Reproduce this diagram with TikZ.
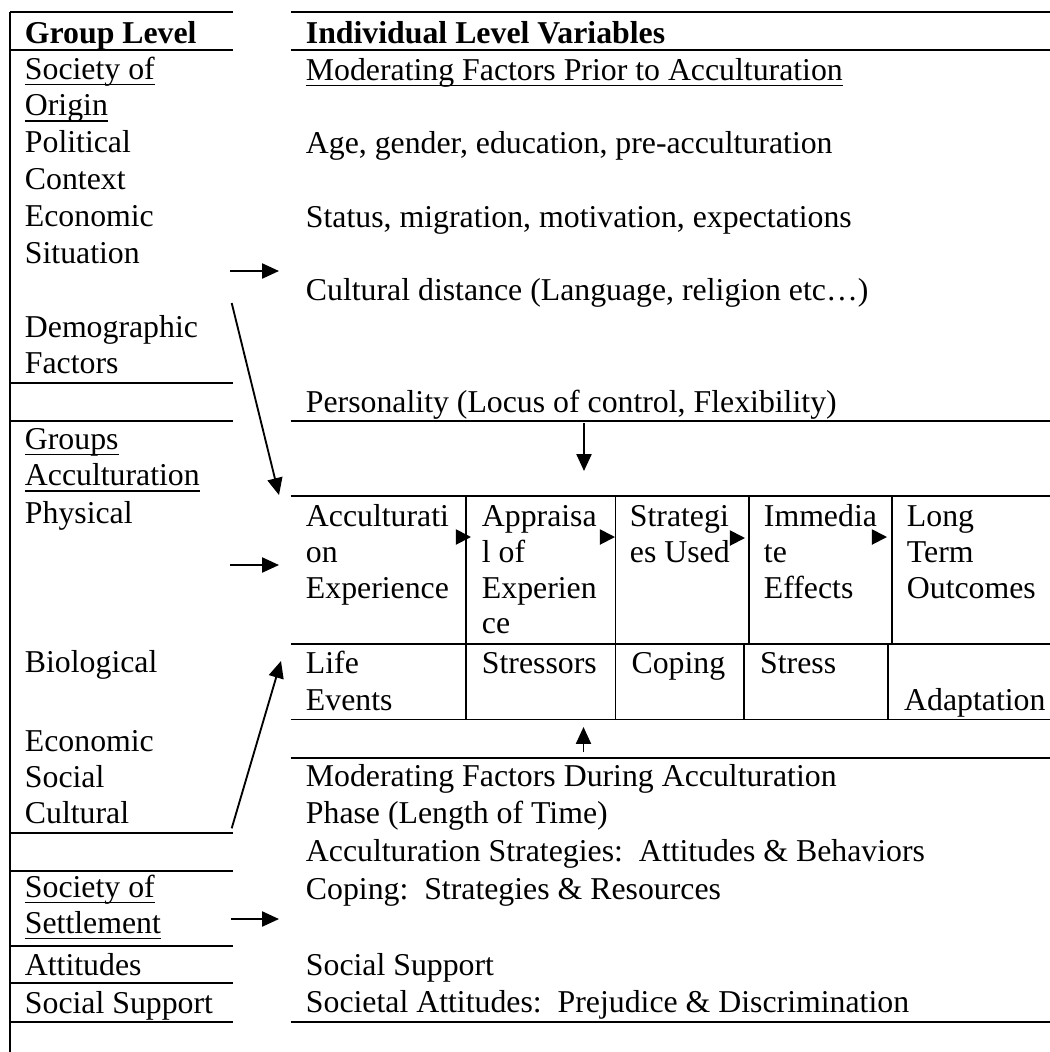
\documentclass[tikz,border=0pt]{standalone}
\usepackage{fontspec}
\setmainfont{Liberation Serif}
\usetikzlibrary{arrows.meta}
\newcommand\ulin[1]{\setbox0\hbox{#1}\rlap{\rule[-2.3pt]{\wd0}{0.6pt}}\box0}

\begin{document}
\begin{tikzpicture}[x=0.3774pt, y=-0.3774pt, line width=0.7pt,
  >={Triangle[length=6.4pt,width=5.7pt]},
  txt/.style={anchor=base west, inner sep=0pt, font=\fontsize{12}{14}\selectfont},
  tip/.style={-{Triangle[length=5.7pt,width=5.7pt]}}]
 \useasboundingbox (0,0) rectangle (1050,1052);

 % Rules of the group column
 \draw (10,12) -- (10,1052);
 \draw (10,12) -- (232.7,12) (10,50) -- (232.7,50)
       (10,382.7) -- (232.7,382.7) (10,420.7) -- (232.7,420.7)
       (10,832.7) -- (232.7,832.7) (10,871) -- (232.7,871)
       (10,945.7) -- (232.7,945.7) (10,983.3) -- (232.7,983.3)
       (10,1021.7) -- (232.7,1021.7);

 % Rules of the individual column
 \draw (290.7,12) -- (1050,12) (290.7,50) -- (1050,50)
       (290.7,420.7) -- (1050,420.7) (290.7,495.7) -- (1050,495.7)
       (290.7,644) -- (1050,644) (290.7,719.5) -- (1050,719.5)
       (290.7,757.7) -- (1050,757.7) (290.7,1021.7) -- (1050,1021.7);

 % Cell walls of the process table
 \draw (466,495.7) -- (466,644) (615.5,495.7) -- (615.5,644)
       (749,495.7) -- (749,644) (892,495.7) -- (892,644);
 \draw (466,644) -- (466,719.5) (615.5,644) -- (615.5,719.5)
       (744,644) -- (744,719.5) (888,644) -- (888,719.5);

 % Group level
 \node[txt, font=\fontsize{12}{14}\selectfont\bfseries] (grp) at (24,43) {Group Level};
 \node[txt] (soc1) at (24,79) {\ulin{Society of}};
 \node[txt] (orig) at (24,115.5) {\ulin{Origin}};
 \node[txt] (pol) at (24,152.5) {Political};
 \node[txt] (ctx) at (24,189.5) {Context};
 \node[txt] (eco1) at (24,226.5) {Economic};
 \node[txt] (sit) at (24,263.5) {Situation};
 \node[txt] (dem) at (24,337) {Demographic};
 \node[txt] (fac) at (24,373.5) {Factors};
 \node[txt] (grps) at (24,449) {\ulin{Groups}};
 \node[txt] (accg) at (24,485.7) {\ulin{Acculturation}};
 \node[txt] (phys) at (24,523) {Physical};
 \node[txt] (bio) at (24,672) {Biological};
 \node[txt] (eco2) at (24,751.7) {Economic};
 \node[txt] (soci) at (24,787) {Social};
 \node[txt] (cult) at (24,823.3) {Cultural};
 \node[txt] (soc2) at (24,897) {\ulin{Society of}};
 \node[txt] (settl) at (24,933) {\ulin{Settlement}};
 \node[txt] (att) at (24,975) {Attitudes};
 \node[txt] (supg) at (24,1013) {Social Support};

 % Individual level, prior to acculturation
 \node[txt, font=\fontsize{12}{14}\selectfont\bfseries] (ind) at (305,43) {Individual Level Variables};
 \node[txt] (modp) at (305,80) {\ulin{Moderating Factors Prior to Acculturation}};
 \node[txt] (age) at (305,153.5) {Age, gender, education, pre-acculturation};
 \node[txt] (stat) at (305,227) {Status, migration, motivation, expectations};
 \node[txt] (dist) at (305,300.5) {Cultural distance (Language, religion etc…)};
 \node[txt] (pers) at (305,412) {Personality (Locus of control, Flexibility)};

 % Process table, upper row
 \node[txt] (ae1) at (305,526.7) {Acculturati};
 \node[txt] (ae2) at (305,562) {on};
 \node[txt] (ae3) at (305,598) {Experience};
 \node[txt] (ap1) at (481,526.7) {Appraisa};
 \node[txt] (ap2) at (481,562) {l of};
 \node[txt] (ap3) at (481,598) {Experien};
 \node[txt] (ap4) at (481,633) {ce};
 \node[txt] (su1) at (629,526.7) {Strategi};
 \node[txt] (su2) at (629,562) {es Used};
 \node[txt] (ie1) at (763,526.7) {Immedia};
 \node[txt] (ie2) at (763,562) {te};
 \node[txt] (ie3) at (763,598) {Effects};
 \node[txt] (lt1) at (906,526.7) {Long};
 \node[txt] (lt2) at (906,562) {Term};
 \node[txt] (lt3) at (906,598) {Outcomes};

 % Process table, lower row
 \node[txt] (le1) at (305,673) {Life};
 \node[txt] (le2) at (305,710) {Events};
 \node[txt] (str) at (481,673) {Stressors};
 \node[txt] (cop) at (630.7,673) {Coping};
 \node[txt] (sts) at (759.3,673) {Stress};
 \node[txt] (adp) at (903.3,710) {Adaptation};

 % Individual level, during acculturation
 \node[txt] (modd) at (305,786.7) {Moderating Factors During Acculturation};
 \node[txt] (phase) at (305,823) {Phase (Length of Time)};
 \node[txt] (strat) at (305,861) {Acculturation Strategies:\ \ Attitudes \& Behaviors};
 \node[txt] (cops) at (305,899) {Coping:\ \ Strategies \& Resources};
 \node[txt] (supi) at (305,975) {Social Support};
 \node[txt] (prej) at (305,1012.7) {Societal Attitudes:\ \ Prejudice \& Discrimination};

 % Ends of the arrows
 \coordinate (o1) at (230,271);   \coordinate (o2) at (279,271);
 \coordinate (d1) at (231.7,303); \coordinate (d2) at (279,495);
 \coordinate (p1) at (230,565);   \coordinate (p2) at (279,565);
 \coordinate (c1) at (231.7,828.3); \coordinate (c2) at (281,661);
 \coordinate (s1) at (231,919);   \coordinate (s2) at (279,919);
 \coordinate (t1) at (584,423);   \coordinate (t2) at (584,471);
 \coordinate (b1) at (583.5,752); \coordinate (b2) at (583.5,727);

 % Arrows into the individual level
 \draw[->] (o1) -- (o2);
 \draw[->] (d1) -- (d2);
 \draw[->] (p1) -- (p2);
 \draw[->] (c1) -- (c2);
 \draw[->] (s1) -- (s2);
 \draw[->] (t1) -- (t2);
 \draw[->] (b1) -- (b2);

 % Heads between the stages
 \coordinate (h1) at (471,537);   \coordinate (h2) at (615,537);
 \coordinate (h3) at (745,538);   \coordinate (h4) at (887,537);
 \draw[tip] ([xshift=-5.7pt]h1) -- (h1);
 \draw[tip] ([xshift=-5.7pt]h2) -- (h2);
 \draw[tip] ([xshift=-5.7pt]h3) -- (h3);
 \draw[tip] ([xshift=-5.7pt]h4) -- (h4);
\end{tikzpicture}
\end{document}
